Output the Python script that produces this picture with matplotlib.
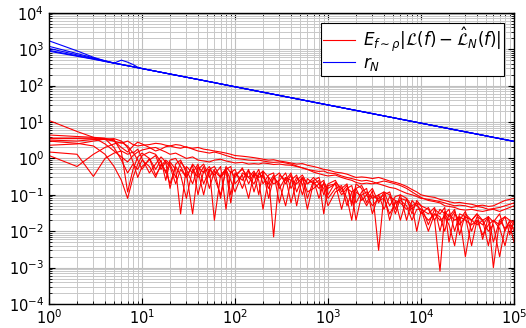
import matplotlib
matplotlib.use("Agg")
import matplotlib.pyplot as plt

# sample sizes N for the red curves
n_red = [1, 2, 3, 4, 5, 6, 7, 8, 9, 10,
         12, 14, 16, 18, 20, 23, 26, 30, 35, 40,
         46, 53, 60, 70, 80, 90, 100, 120, 140, 160,
         180, 200, 230, 260, 300, 350, 400, 460, 530, 600,
         700, 800, 900, 1000, 1200, 1400, 1600, 1800, 2000, 2300,
         2600, 3000, 3500, 4000, 4600, 5300, 6000, 7000, 8000, 9000,
         10000, 12000, 14000, 16000, 18000, 20000, 23000, 26000, 30000, 35000,
         40000, 46000, 53000, 60000, 70000, 80000, 90000, 100000]

# E |L(f) - L_N(f)| for each run
err_1 = [3.5, 3.5, 3.4, 3.3, 3.0, 2.6, 3.0, 2.4, 2.2, 2.3,
         2.4, 2.6, 2.5, 2.3, 2.2, 2.4, 2.3, 2.0, 1.9, 2.0,
         1.8, 1.7, 1.6, 1.5, 1.4, 1.3, 1.2, 1.15, 1.1, 1.05,
         1.0, 0.95, 0.9, 0.92, 0.85, 0.8, 0.75, 0.7, 0.72, 0.65,
         0.6, 0.55, 0.5, 0.48, 0.42, 0.4, 0.37, 0.33, 0.3, 0.31,
         0.3, 0.28, 0.3, 0.27, 0.24, 0.22, 0.2, 0.17, 0.14, 0.12,
         0.1, 0.09, 0.085, 0.075, 0.07, 0.065, 0.06, 0.062, 0.058, 0.055,
         0.05, 0.052, 0.048, 0.05, 0.06, 0.07, 0.075, 0.08]
err_2 = [4.4, 4.0, 3.8, 3.6, 3.0, 2.0, 1.5, 2.2, 2.8, 2.5,
         2.0, 1.6, 1.8, 2.1, 2.2, 2.0, 1.9, 2.1, 1.8, 1.6,
         1.5, 1.4, 1.5, 1.35, 1.2, 1.1, 1.0, 0.95, 0.9, 0.88,
         0.9, 0.85, 0.8, 0.78, 0.8, 0.75, 0.7, 0.62, 0.55, 0.5,
         0.46, 0.44, 0.45, 0.4, 0.38, 0.33, 0.3, 0.28, 0.26, 0.24,
         0.25, 0.23, 0.2, 0.18, 0.16, 0.15, 0.13, 0.11, 0.1, 0.09,
         0.08, 0.075, 0.07, 0.065, 0.06, 0.055, 0.05, 0.052, 0.05, 0.045,
         0.048, 0.045, 0.04, 0.042, 0.045, 0.05, 0.055, 0.06]
err_3 = [11, 5.5, 3.8, 2.5, 1.6, 1.1, 0.8, 1.2, 1.5, 1.7,
         1.9, 2.0, 1.7, 1.5, 1.3, 1.4, 1.2, 1.0, 1.1, 0.9,
         0.85, 0.8, 0.9, 0.95, 0.85, 0.8, 0.75, 0.78, 0.7, 0.72,
         0.7, 0.75, 0.72, 0.68, 0.7, 0.66, 0.65, 0.6, 0.55, 0.5,
         0.42, 0.38, 0.35, 0.33, 0.35, 0.3, 0.27, 0.25, 0.22, 0.2,
         0.21, 0.2, 0.22, 0.24, 0.22, 0.2, 0.18, 0.15, 0.12, 0.1,
         0.085, 0.07, 0.065, 0.06, 0.05, 0.048, 0.045, 0.04, 0.038, 0.04,
         0.037, 0.035, 0.038, 0.04, 0.035, 0.04, 0.045, 0.05]
err_4 = [3.6, 3.6, 3.6, 3.5, 2.0, 0.9, 0.4, 0.7, 0.5, 0.9,
         0.6, 0.3, 0.7, 0.45, 0.2, 0.6, 0.35, 0.08, 0.5, 0.3,
         0.6, 0.15, 0.45, 0.3, 0.55, 0.1, 0.4, 0.25, 0.5, 0.12,
         0.35, 0.45, 0.08, 0.3, 0.4, 0.2, 0.35, 0.05, 0.3, 0.2,
         0.25, 0.08, 0.22, 0.15, 0.2, 0.04, 0.15, 0.18, 0.06, 0.12,
         0.15, 0.03, 0.1, 0.12, 0.05, 0.09, 0.1, 0.02, 0.07, 0.05,
         0.04, 0.03, 0.045, 0.01, 0.035, 0.025, 0.04, 0.008, 0.03, 0.02,
         0.03, 0.006, 0.025, 0.018, 0.03, 0.01, 0.02, 0.015]
err_5 = [3.2, 3.0, 3.3, 3.4, 3.3, 1.5, 0.12, 0.5, 1.1, 1.4,
         1.0, 0.5, 0.9, 0.25, 0.8, 0.5, 0.03, 0.6, 0.4, 0.7,
         0.2, 0.5, 0.35, 0.6, 0.04, 0.45, 0.3, 0.55, 0.2, 0.4,
         0.1, 0.45, 0.3, 0.007, 0.35, 0.25, 0.4, 0.12, 0.3, 0.08,
         0.25, 0.3, 0.1, 0.2, 0.25, 0.12, 0.18, 0.05, 0.2, 0.15,
         0.06, 0.13, 0.003, 0.1, 0.12, 0.04, 0.1, 0.08, 0.03, 0.07,
         0.05, 0.015, 0.04, 0.03, 0.045, 0.005, 0.03, 0.02, 0.035, 0.01,
         0.025, 0.02, 0.004, 0.02, 0.015, 0.025, 0.008, 0.02]
err_6 = [2.3, 2.5, 3.0, 3.4, 3.5, 3.0, 2.0, 0.8, 0.3, 0.6,
         0.9, 1.2, 0.5, 0.8, 0.15, 0.7, 0.9, 0.4, 0.03, 0.5,
         0.7, 0.3, 0.5, 0.08, 0.6, 0.4, 0.5, 0.15, 0.45, 0.3,
         0.5, 0.2, 0.35, 0.4, 0.06, 0.3, 0.25, 0.35, 0.1, 0.28,
         0.2, 0.25, 0.03, 0.18, 0.2, 0.1, 0.15, 0.12, 0.02, 0.1,
         0.12, 0.08, 0.1, 0.04, 0.09, 0.07, 0.02, 0.08, 0.05, 0.06,
         0.03, 0.045, 0.02, 0.0008, 0.03, 0.02, 0.035, 0.015, 0.025, 0.004,
         0.02, 0.015, 0.025, 0.001, 0.02, 0.012, 0.018, 0.01]
err_7 = [1.2, 0.6, 1.3, 2.0, 2.5, 2.8, 2.2, 1.4, 1.8, 1.0,
         0.4, 0.7, 1.1, 0.8, 0.6, 0.2, 0.5, 0.3, 0.65, 0.1,
         0.45, 0.5, 0.02, 0.35, 0.5, 0.25, 0.12, 0.4, 0.3, 0.45,
         0.25, 0.04, 0.3, 0.2, 0.25, 0.4, 0.15, 0.3, 0.2, 0.04,
         0.22, 0.15, 0.2, 0.08, 0.15, 0.18, 0.05, 0.12, 0.15, 0.07,
         0.1, 0.05, 0.08, 0.1, 0.02, 0.07, 0.06, 0.04, 0.05, 0.01,
         0.035, 0.02, 0.03, 0.025, 0.01, 0.03, 0.02, 0.025, 0.002, 0.02,
         0.015, 0.02, 0.01, 0.015, 0.002, 0.012, 0.015, 0.005]
err_8 = [1.5, 1.3, 0.32, 1.0, 1.4, 1.6, 1.3, 1.5, 0.9, 0.5,
         1.0, 0.35, 0.6, 0.9, 0.7, 0.3, 0.8, 0.5, 0.2, 0.6,
         0.4, 0.6, 0.3, 0.1, 0.5, 0.6, 0.2, 0.35, 0.08, 0.4,
         0.3, 0.35, 0.15, 0.3, 0.2, 0.05, 0.25, 0.2, 0.3, 0.12,
         0.15, 0.2, 0.15, 0.05, 0.12, 0.15, 0.08, 0.02, 0.12, 0.09,
         0.05, 0.1, 0.07, 0.08, 0.03, 0.06, 0.07, 0.05, 0.02, 0.04,
         0.04, 0.01, 0.03, 0.02, 0.025, 0.015, 0.004, 0.025, 0.02, 0.015,
         0.02, 0.008, 0.015, 0.02, 0.012, 0.004, 0.015, 0.012]
err_9 = [3.0, 2.6, 2.2, 1.3, 0.6, 0.25, 0.08, 0.3, 0.7, 1.2,
         1.5, 1.3, 0.8, 0.4, 0.9, 1.0, 0.6, 0.3, 0.7, 0.45,
         0.1, 0.5, 0.6, 0.3, 0.45, 0.06, 0.35, 0.5, 0.3, 0.2,
         0.4, 0.3, 0.2, 0.35, 0.15, 0.3, 0.06, 0.25, 0.35, 0.2,
         0.3, 0.2, 0.25, 0.1, 0.22, 0.15, 0.2, 0.06, 0.15, 0.18,
         0.1, 0.15, 0.06, 0.12, 0.1, 0.03, 0.08, 0.07, 0.04, 0.06,
         0.05, 0.04, 0.02, 0.04, 0.03, 0.04, 0.01, 0.03, 0.025, 0.02,
         0.03, 0.02, 0.025, 0.005, 0.02, 0.025, 0.02, 0.018]

# bound r_N for each run
n_blue = [1, 2, 3, 4, 5, 6, 7, 8, 9, 10, 20, 50, 100, 1000, 10000, 100000]
r_1 = [930, 660, 540, 465, 415, 380, 352, 330, 310, 294, 208, 132, 93, 29.4, 9.3, 2.94]
r_2 = [1700, 900, 600, 480, 420, 380, 352, 330, 310, 294, 208, 132, 93, 29.4, 9.3, 2.94]
r_3 = [1200, 760, 580, 480, 415, 380, 352, 330, 310, 294, 208, 132, 93, 29.4, 9.3, 2.94]
r_4 = [1050, 700, 560, 470, 415, 500, 440, 380, 320, 294, 208, 132, 93, 29.4, 9.3, 2.94]
r_5 = [880, 640, 530, 460, 412, 378, 350, 328, 309, 293, 208, 132, 93, 29.4, 9.3, 2.94]

fig = plt.figure(figsize=(5.26, 3.28), dpi=100)
ax = fig.add_axes([0.0932, 0.073, 0.884, 0.888])

errs = [err_1, err_2, err_3, err_4, err_5, err_6, err_7, err_8, err_9]
for i, e in enumerate(errs):
    ax.plot(n_red, e, color="red", lw=0.8,
            label=r"$E_{f\sim\rho}|\mathcal{L}(f)-\hat{\mathcal{L}}_N(f)|$" if i == 0 else None)

for i, r in enumerate([r_1, r_2, r_3, r_4, r_5]):
    ax.plot(n_blue, r, color="blue", lw=0.8, label=r"$r_N$" if i == 0 else None)

ax.set_xscale("log")
ax.set_yscale("log")
ax.set_xlim(1, 1e5)
ax.set_ylim(1e-4, 1e4)
ax.set_yticks([10.0**k for k in range(-4, 5)])

ax.grid(True, which="major", color="#c0c0c0", lw=0.8)
ax.grid(True, which="minor", color="#c8c8c8", lw=0.7)
ax.set_axisbelow(True)
ax.tick_params(which="both", direction="in", top=True, right=True, labelsize=10.5)
ax.tick_params(which="major", length=4)
ax.tick_params(axis="x", which="major", pad=3)
ax.tick_params(which="minor", length=2)
for s in ax.spines.values():
    s.set_linewidth(1.0)

leg = ax.legend(loc="upper right", fontsize=12, fancybox=False, framealpha=1,
                edgecolor="black", handlelength=1.9, handletextpad=0.5,
                borderpad=0.15, labelspacing=0.0, borderaxespad=0.6)
leg.get_frame().set_linewidth(0.8)

fig.savefig("out.png", dpi=100)
